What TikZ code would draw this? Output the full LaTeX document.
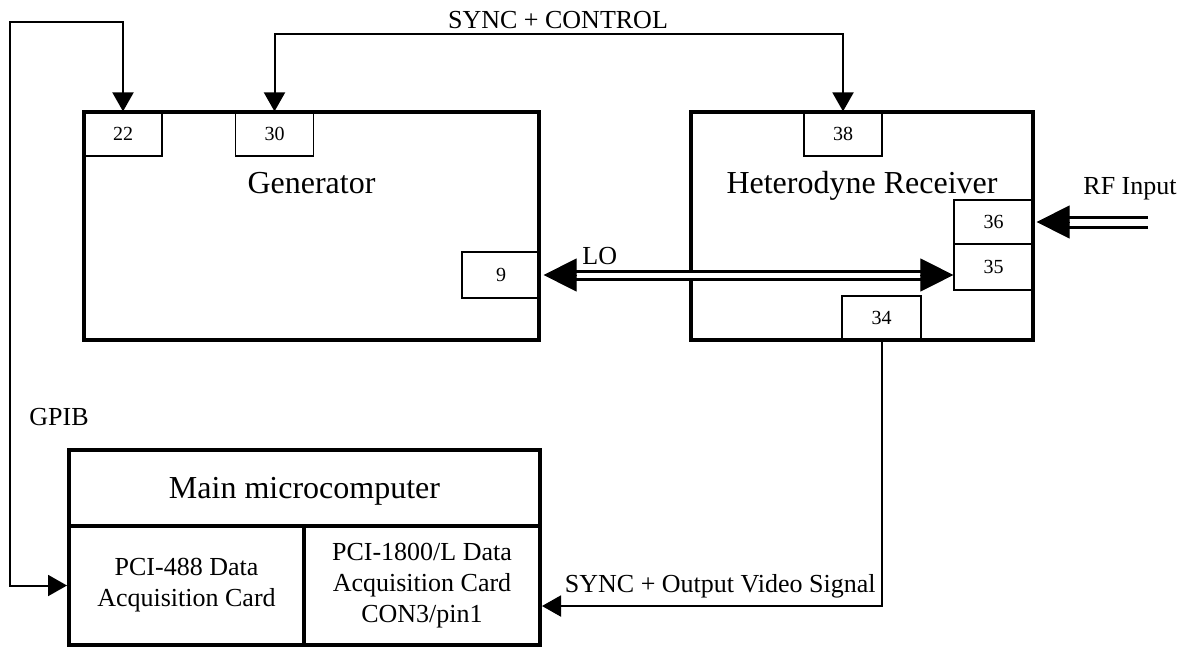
\documentclass[tikz,border=0pt]{standalone}
\usepackage{fontspec}
\setmainfont{Liberation Serif}
\usetikzlibrary{arrows.meta}
\begin{document}
\begin{tikzpicture}[x=0.5pt,y=-0.5pt,
  unitbox/.style={draw, line width=2pt, inner sep=0pt},
  titletext/.style={font=\fontsize{16pt}{19pt}\selectfont, inner sep=0pt},
  labeltext/.style={font=\fontsize{13pt}{15.5pt}\selectfont, inner sep=0pt},
  celltext/.style={font=\fontsize{13pt}{15.5pt}\selectfont, align=center, inner sep=0pt},
  port/.style={draw, line width=0.6pt, inner sep=0pt, minimum width=39pt,
    minimum height=22pt, font=\fontsize{10pt}{12pt}\selectfont},
  wire/.style={line width=1pt},
  smalltip/.style={-{Triangle[length=9.5pt,width=10.5pt]}},
  bothtips/.style={{Triangle[length=9.5pt,width=10.5pt]}-{Triangle[length=9.5pt,width=10.5pt]}},
  bigtip/.style={line width=0.5pt, -{Triangle[length=16.5pt,width=16.5pt]}},
  rail/.style={line width=1.5pt, double distance=#1},
]
\useasboundingbox (0,0) rectangle (1192,648);

% main units
\node[unitbox, minimum width=227.5pt, minimum height=114pt] (gen) at (311.5,226) {};
\node[unitbox, minimum width=171pt, minimum height=114pt] (rx) at (862,226) {};
\node[titletext, anchor=base] (gentitle) at (311.5,193) {Generator};
\node[titletext, anchor=base] (rxtitle) at (862,193) {Heterodyne Receiver};

% microcomputer with its two cards
\node[unitbox, minimum width=235.5pt, minimum height=38pt] (mc) at (304.5,488) {};
\node[titletext, anchor=base] (mctitle) at (304.5,498) {Main microcomputer};
\node[unitbox, minimum width=117.5pt, minimum height=59.5pt] (cardL) at (186.5,585.5) {};
\node[unitbox, minimum width=118pt, minimum height=59.5pt] (cardR) at (422,585.5) {};
\node[celltext] (cardLtext) at (cardL.center) {PCI-488 Data\\Acquisition Card};
\node[celltext] (cardRtext) at (cardR.center) {PCI-1800/L Data\\Acquisition Card\\CON3/pin1};

% connector ports
\node[port] (p22) at (123,134) {22};
\node[port] (p30) at (274.5,134) {30};
\node[port] (p38) at (843,134) {38};
\node[port, minimum height=23pt] (p9) at (501,275) {9};
\node[port, minimum width=39.5pt] (p36) at (993.5,222) {36};
\node[port, minimum width=39.5pt, minimum height=23pt] (p35) at (993.5,267) {35};
\node[port, minimum width=39.5pt] (p34) at (881.5,318) {34};

% GPIB bus
\coordinate (gpibtop) at (10,22);
\draw[wire, bothtips] (cardL.west) -| (gpibtop) -| (p22.north);
\node[labeltext] (gpib) at (59,417) {GPIB};

% sync and control line
\coordinate (syncmid) at (558,33.5);
\draw[wire, bothtips] (p30.north) |- (syncmid) -| (p38.north);
\node[labeltext, anchor=base] (synclabel) at (558,28) {SYNC + CONTROL};

% local oscillator link
\coordinate (loend) at (p9.east -| p35.west);
\draw[rail=2.5pt, shorten <=15pt, shorten >=15pt] (p9.east) -- (loend);
\draw[bigtip] ([xshift=18pt]p9.east) -- ([xshift=1.5pt]p9.east);
\draw[bigtip] ([xshift=-16.5pt]loend) -- (loend);
\node[labeltext, anchor=base west] (lo) at (582,264) {LO};

% RF input
\coordinate (rfin) at (p36.east -| 1148,0);
\draw[rail=3.5pt, shorten >=16pt] (rfin) -- (p36.east);
\draw[bigtip] ([xshift=18pt]p36.east) -- ([xshift=1.5pt]p36.east);
\node[labeltext, anchor=base] (rflabel) at (1130,194) {RF Input};

% video output to the acquisition card
\coordinate (vidturn) at (881.5,606);
\draw[wire, smalltip] (p34.south) -- (vidturn) -- (vidturn -| cardR.east);
\node[labeltext, anchor=base east] (vidlabel) at (876,592) {SYNC + Output Video Signal};
\end{tikzpicture}
\end{document}
